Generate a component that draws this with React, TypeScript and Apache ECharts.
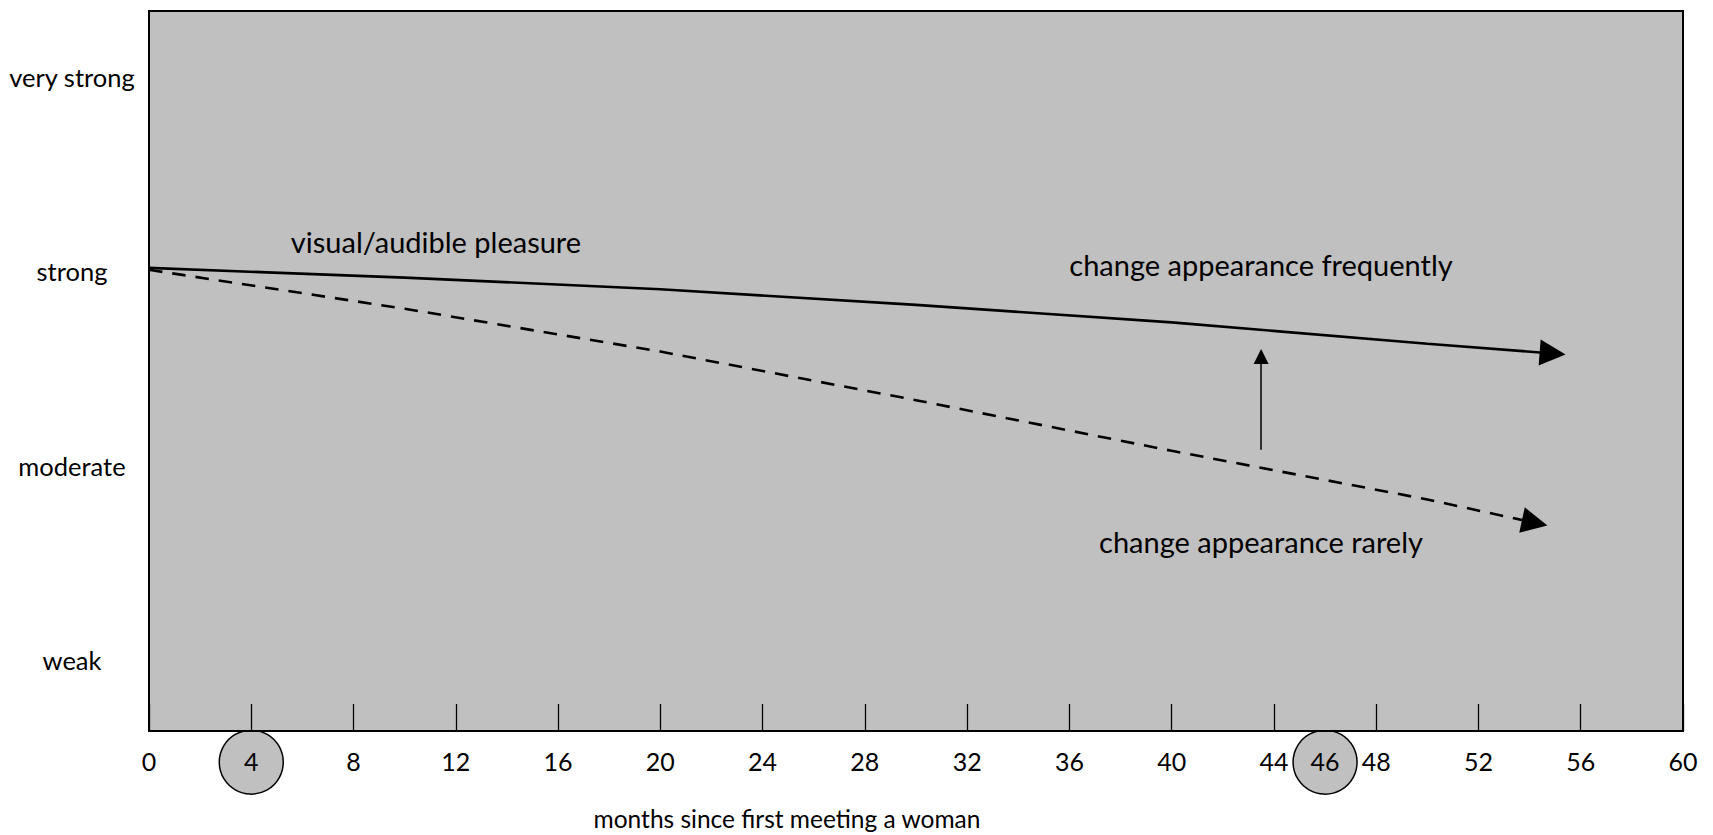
import React, { useEffect, useRef } from "react";
import * as echarts from "echarts";

// ---- data ----
const xTickLabels = [0, 4, 8, 12, 16, 20, 24, 28, 32, 36, 40, 44, 48, 52, 56, 60];
const highlightedMonths = [4, 46];
const highlightLevel = 0.5;
const strengthValues = [1, 2, 3, 4];
const strengthNames = ["weak", "moderate", "strong", "very strong"];

const frequentMonths = [0, 10, 20, 30, 40, 50, 54.9];
const frequentStrength = [3.04, 2.99, 2.93, 2.85, 2.76, 2.65, 2.6];

const rareMonths = [0, 10, 20, 30, 40, 50, 54.2];
const rareStrength = [3.03, 2.83, 2.61, 2.36, 2.1, 1.85, 1.73];

const shiftMonths = [43.5, 43.5];
const shiftStrength = [2.105, 2.585];

const annotationTexts = [
  "visual/audible pleasure",
  "change appearance frequently",
  "change appearance rarely",
];
const xAxisTitle = "months since first meeting a woman";

const FONT = "Lato, 'Noto Sans', sans-serif";

const zip = (xs: number[], ys: number[]) => xs.map((x, i) => [x, ys[i]]);
const lastSegment = (xs: number[], ys: number[]) => {
  const n = xs.length;
  return [
    [xs[n - 2], ys[n - 2]],
    [xs[n - 1], ys[n - 1]],
  ];
};

export default function App() {
  const ref = useRef<HTMLDivElement>(null);
  useEffect(() => {
    if (!ref.current) return;
    const chart = echarts.init(ref.current, null, { renderer: "svg" });
    const arrowHead = (coords: number[][], size: number) => ({
      type: "lines",
      coordinateSystem: "cartesian2d",
      symbol: ["none", "triangle"],
      symbolSize: size,
      lineStyle: { color: "#000", width: 0, opacity: 1 },
      itemStyle: { color: "#000" },
      data: [{ coords }],
      z: 4,
      silent: true,
    });
    const option: any = {
      animation: false,
      backgroundColor: "#ffffff",
      grid: {
        left: 149,
        right: 30,
        top: 11,
        bottom: 104,
        show: true,
        backgroundColor: "#c0c0c0",
        borderColor: "#000",
        borderWidth: 2,
        containLabel: false,
        outerBoundsMode: "none",
      },
      xAxis: {
        type: "value",
        min: 0,
        max: 60,
        interval: 4,
        axisLine: { show: true, lineStyle: { color: "#000", width: 2 } },
        axisTick: { show: true, inside: true, length: 27, lineStyle: { color: "#000", width: 1.3 } },
        splitLine: { show: false },
        axisLabel: {
          customValues: [...xTickLabels, ...highlightedMonths.filter((m) => !xTickLabels.includes(m))],
          color: "#000",
          fontSize: 25,
          fontFamily: FONT,
          margin: 30,
          verticalAlign: "middle",
        },
      },
      yAxis: {
        type: "value",
        min: 0.66,
        max: 4.36,
        axisLine: { show: false },
        axisTick: { show: false },
        splitLine: { show: false },
        axisLabel: {
          customValues: strengthValues,
          formatter: (v: number) => strengthNames[strengthValues.indexOf(Math.round(v))] ?? "",
          color: "#000",
          fontSize: 25.5,
          fontFamily: FONT,
          align: "center",
          verticalAlign: "bottom",
          lineHeight: 9,
          margin: 77,
        },
      },
      series: [
        {
          type: "scatter",
          data: highlightedMonths.map((m) => [m, highlightLevel]),
          symbol: "circle",
          symbolSize: 64,
          clip: false,
          z: -1,
          itemStyle: { color: "#c0c0c0", borderColor: "#000", borderWidth: 1.5, opacity: 1 },
          silent: true,
        },
        {
          type: "line",
          data: zip(frequentMonths, frequentStrength),
          showSymbol: false,
          symbol: "none",
          lineStyle: { color: "#000", width: 2.6, type: "solid" },
          z: 3,
        },
        {
          type: "line",
          data: zip(rareMonths, rareStrength),
          showSymbol: false,
          symbol: "none",
          lineStyle: { color: "#000", width: 2.6, type: [13.5, 10] },
          z: 3,
        },
        arrowHead(lastSegment(frequentMonths, frequentStrength), 26),
        arrowHead(lastSegment(rareMonths, rareStrength), 26),
        {
          type: "lines",
          coordinateSystem: "cartesian2d",
          symbol: ["none", "triangle"],
          symbolSize: 15,
          lineStyle: { color: "#000", width: 1.5, opacity: 1, type: "solid" },
          data: [{ coords: zip(shiftMonths, shiftStrength) }],
          z: 3,
          silent: true,
        },
      ],
      graphic: [
        {
          type: "text",
          x: 436,
          y: 241,
          z: 10,
          style: { text: annotationTexts[0], fill: "#000", fontSize: 29, fontFamily: FONT, align: "center", verticalAlign: "middle" },
        },
        {
          type: "text",
          x: 1261,
          y: 264,
          z: 10,
          style: { text: annotationTexts[1], fill: "#000", fontSize: 29, fontFamily: FONT, align: "center", verticalAlign: "middle" },
        },
        {
          type: "text",
          x: 1261,
          y: 541,
          z: 10,
          style: { text: annotationTexts[2], fill: "#000", fontSize: 29, fontFamily: FONT, align: "center", verticalAlign: "middle" },
        },
        {
          type: "text",
          x: 787,
          y: 818,
          z: 10,
          style: { text: xAxisTitle, fill: "#000", fontSize: 24.5, fontFamily: FONT, align: "center", verticalAlign: "middle" },
        },
      ],
    };
    chart.setOption(option);
    return () => chart.dispose();
  }, []);
  return (
    <div
      ref={ref}
      style={{ position: "fixed", left: 0, top: 0, width: 1713, height: 835, background: "#fff" }}
    />
  );
}
